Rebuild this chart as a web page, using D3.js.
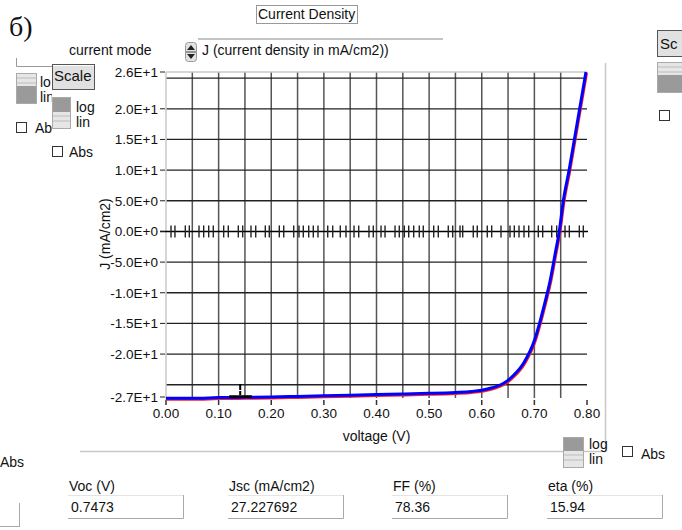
<!DOCTYPE html>
<html>
<head>
<meta charset="utf-8">
<script src="https://cdn.jsdelivr.net/npm/d3@7"></script>
<style>
  body { margin: 0; background: #fff; }
  svg text { font-family: "Liberation Sans", Arial, sans-serif; font-size: 14px; fill: #111; }
  svg text.tick { font-size: 13.5px; }
</style>
</head>
<body>
<div id="chart"></div>
<script>
// measured J-V curve (V, mA/cm2)
var voltage = [0, 0.05, 0.10, 0.15, 0.20, 0.25, 0.30, 0.35, 0.40, 0.45, 0.50, 0.55, 0.58, 0.60, 0.62, 0.64, 0.66, 0.68, 0.70, 0.71, 0.72, 0.73, 0.74, 0.7473, 0.755, 0.766, 0.776, 0.786, 0.798];
var current = [-27.2, -27.2, -27.1, -27.05, -27.0, -26.9, -26.8, -26.7, -26.6, -26.5, -26.4, -26.25, -26.1, -25.9, -25.5, -24.85, -23.5, -21.4, -17.8, -14.9, -11.6, -8.0, -3.4, 0, 5, 10, 15, 20, 26];

// axis ticks
var yTicks = [26, 20, 15, 10, 5, 0, -5, -10, -15, -20, -27];
var yTickLabels = ["2.6E+1", "2.0E+1", "1.5E+1", "1.0E+1", "5.0E+0", "0.0E+0", "-5.0E+0", "-1.0E+1", "-1.5E+1", "-2.0E+1", "-2.7E+1"];
var yGrid = [-25, -20, -15, -10, -5, 5, 10, 15, 20, 25];
var xTicks = [0, 0.1, 0.2, 0.3, 0.4, 0.5, 0.6, 0.7, 0.8];
var xGrid = [0.05, 0.10, 0.15, 0.20, 0.25, 0.30, 0.35, 0.40, 0.45, 0.50, 0.55, 0.60, 0.65, 0.70, 0.75];

// markers sitting on the zero line
var zeroMarks = [0.0095, 0.017, 0.0367, 0.0443, 0.0627, 0.0716, 0.0811, 0.0899, 0.1096, 0.1184, 0.1374, 0.1457,
  0.1615, 0.1705, 0.1887, 0.1963, 0.2153, 0.2237, 0.2427, 0.2527, 0.2609, 0.2712, 0.2799, 0.2888, 0.3073, 0.3168,
  0.3312, 0.342, 0.3573, 0.3662, 0.3857, 0.3939, 0.4086, 0.4162, 0.4352, 0.4433, 0.4528, 0.4612, 0.4707, 0.4813,
  0.4889, 0.5087, 0.5174, 0.5364, 0.5448, 0.5587, 0.5638, 0.5839, 0.5915, 0.6105, 0.6189, 0.6366, 0.6537, 0.6619,
  0.6708, 0.6803, 0.6892, 0.7075, 0.7158, 0.7329, 0.7424, 0.7582, 0.7664, 0.7854, 0.793];

// results
var resultNames = ["Voc (V)", "Jsc (mA/cm2)", "FF  (%)", "eta (%)"];
var resultValues = ["0.7473", "27.227692", "78.36", "15.94"];

var svg = d3.select('#chart').append('svg')
  .attr('width', 682)
  .attr('height', 530);

var x = d3.scaleLinear().domain([0, 0.8]).range([166, 587]);
var y = d3.scaleLinear().domain([-27, 26]).range([397, 72]);

svg.append('clipPath').attr('id', 'leftclip')
  .append('rect').attr('x', 0).attr('y', 0).attr('width', 52).attr('height', 200);

// ---- header ----
svg.append('text').attr('x', 9).attr('y', 36)
  .style('font-family', '"Liberation Serif", "Times New Roman", serif')
  .style('font-size', '28px').text('б)');

svg.append('rect').attr('x', 256.5).attr('y', 5.5).attr('width', 101).attr('height', 18)
  .attr('fill', 'none').attr('stroke', '#333').attr('stroke-dasharray', '1,1');
svg.append('text').attr('x', 258).attr('y', 19).text('Current Density');

svg.append('text').attr('x', 69).attr('y', 55).text('current mode');
svg.append('line').attr('x1', 198).attr('x2', 443).attr('y1', 39).attr('y2', 39)
  .attr('stroke', '#c4c4c4').attr('stroke-width', 2);
// spinner
svg.append('rect').attr('x', 185.5).attr('y', 42.5).attr('width', 11).attr('height', 19).attr('rx', 3)
  .attr('fill', '#e4e4e4').attr('stroke', '#999');
svg.append('path').attr('d', 'M187,50 L191,45 L195,50 Z').attr('fill', '#222');
svg.append('path').attr('d', 'M187,54 L191,59 L195,54 Z').attr('fill', '#222');
svg.append('line').attr('x1', 186).attr('x2', 196).attr('y1', 52).attr('y2', 52).attr('stroke', '#444');
svg.append('text').attr('x', 202).attr('y', 55).text('J (current density in mA/cm2))');

// ---- small widgets ----
function slider(x0, y0, w, h, darkTop) {
  var g = svg.append('g');
  g.append('rect').attr('x', x0 + 0.5).attr('y', y0 + 0.5).attr('width', w).attr('height', h)
    .attr('fill', '#e6e6e6').attr('stroke', '#aaa');
  var half = Math.round(h / 2);
  g.append('rect').attr('x', x0 + 1).attr('y', darkTop ? y0 + 1 : y0 + half - 2)
    .attr('width', w - 1).attr('height', darkTop ? half - 2 : h - half + 2)
    .attr('fill', '#9a9a9a');
  var ly = darkTop ? y0 + half + 3 : y0 + 5;
  g.append('line').attr('x1', x0 + 1).attr('x2', x0 + w).attr('y1', ly).attr('y2', ly).attr('stroke', '#bbb');
  g.append('line').attr('x1', x0 + 1).attr('x2', x0 + w).attr('y1', ly + 5).attr('y2', ly + 5).attr('stroke', '#bbb');
}
function checkbox(x0, y0) {
  svg.append('rect').attr('x', x0 + 0.5).attr('y', y0 + 0.5).attr('width', 10).attr('height', 10)
    .attr('fill', '#fff').attr('stroke', '#333');
}
function button(x0, y0, w, h, label) {
  svg.append('rect').attr('x', x0 + 0.5).attr('y', y0 + 0.5).attr('width', w).attr('height', h)
    .attr('fill', '#e1e1e1').attr('stroke', '#555');
  svg.append('line').attr('x1', x0 + 1).attr('x2', x0 + w).attr('y1', y0 + 1.5).attr('y2', y0 + 1.5).attr('stroke', '#fff');
  svg.append('text').attr('x', x0 + 2).attr('y', y0 + h - 8).style('font-size', '15px').text(label);
}

// left controls (partly hidden behind the Scale panel)
svg.append('path').attr('d', 'M16.5,58 L16.5,66.5 L52,66.5').attr('fill', 'none').attr('stroke', '#999');
slider(16, 73, 20, 30, false);
svg.append('text').attr('x', 40).attr('y', 87).text('lo');
svg.append('text').attr('clip-path', 'url(#leftclip)').attr('x', 40).attr('y', 102).text('lin');
checkbox(16, 122);
svg.append('text').attr('clip-path', 'url(#leftclip)').attr('x', 35).attr('y', 133).text('Abs');
button(52, 64, 42, 25, 'Scale');
slider(52, 97, 18, 31, true);
svg.append('text').attr('x', 76).attr('y', 112).text('log');
svg.append('text').attr('x', 76).attr('y', 127).text('lin');
checkbox(52, 146);
svg.append('text').attr('x', 69).attr('y', 157).text('Abs');

// right controls
svg.append('rect').attr('x', 657.5).attr('y', 30.5).attr('width', 30).attr('height', 26)
  .attr('fill', '#e1e1e1').attr('stroke', '#555');
svg.append('text').attr('x', 660).attr('y', 49).style('font-size', '15px').text('Sc');
slider(657, 62, 30, 30, false);
checkbox(659, 110);

// panel border
svg.append('path').attr('d', 'M80,451.5 L605.5,451.5 L605.5,63').attr('fill', 'none')
  .attr('stroke', '#c8c8c8').attr('stroke-width', 1.5);

// ---- plot ----
var plot = svg.append('g');

plot.selectAll('.vgrid').data(xGrid).enter().append('line')
  .attr('x1', function(d) { return x(d); }).attr('x2', function(d) { return x(d); })
  .attr('y1', y(26)).attr('y2', y(-27) + 1)
  .attr('stroke', '#555').attr('stroke-width', 1.5);

plot.selectAll('.hgrid').data(yGrid).enter().append('line')
  .attr('x1', x(0)).attr('x2', x(0.8))
  .attr('y1', function(d) { return y(d); }).attr('y2', function(d) { return y(d); })
  .attr('stroke', '#222').attr('stroke-width', 1.3);

// frame: light top and left edges
plot.append('line').attr('x1', x(0)).attr('x2', x(0.8)).attr('y1', y(26)).attr('y2', y(26))
  .attr('stroke', '#c8c8c8').attr('stroke-width', 1.5);
plot.append('line').attr('x1', x(0)).attr('x2', x(0)).attr('y1', y(26)).attr('y2', y(-27) + 3)
  .attr('stroke', '#c8c8c8').attr('stroke-width', 1.5);

// zero line with markers
plot.append('line').attr('x1', 160).attr('x2', x(0.8) + 1).attr('y1', y(0)).attr('y2', y(0))
  .attr('stroke', '#000').attr('stroke-width', 1.5);
plot.selectAll('.zmark').data(zeroMarks).enter().append('line')
  .attr('x1', function(d) { return x(d); }).attr('x2', function(d) { return x(d); })
  .attr('y1', y(0) - 6).attr('y2', y(0) + 6)
  .attr('stroke', '#222').attr('stroke-width', 1.4);

// y axis
plot.selectAll('.ytick').data(yTicks).enter().append('line')
  .attr('x1', 160).attr('x2', 165)
  .attr('y1', function(d) { return y(d); }).attr('y2', function(d) { return y(d); })
  .attr('stroke', '#222');
plot.selectAll('.ylab').data(yTicks).enter().append('text')
  .attr('class', 'tick')
  .attr('x', 158).attr('y', function(d) { return y(d) + 5; })
  .attr('text-anchor', 'end')
  .text(function(d, i) { return yTickLabels[i]; });

// x axis
plot.selectAll('.xtick').data(xTicks).enter().append('line')
  .attr('x1', function(d) { return x(d); }).attr('x2', function(d) { return x(d); })
  .attr('y1', 400).attr('y2', 405)
  .attr('stroke', '#333').attr('stroke-width', 1.5);
plot.selectAll('.xlab').data(xTicks).enter().append('text')
  .attr('class', 'tick')
  .attr('x', function(d) { return x(d); }).attr('y', 418)
  .attr('text-anchor', 'middle')
  .text(function(d) { return d3.format('.2f')(d); });

svg.append('text').attr('x', x(0.4)).attr('y', 441).attr('text-anchor', 'middle').text('voltage (V)');
svg.append('text').attr('transform', 'translate(110,234) rotate(-90)')
  .attr('text-anchor', 'middle').text('J (mA/cm2)');

// curve
var pts = voltage.map(function(v, i) { return [v, current[i]]; });
var line = d3.line()
  .x(function(d) { return x(d[0]); })
  .y(function(d) { return y(d[1]); })
  .curve(d3.curveMonotoneX);
plot.append('path').datum(pts).attr('d', line).attr('transform', 'translate(0.6,1)')
  .attr('fill', 'none').attr('stroke', '#ff2020').attr('stroke-width', 3);
plot.append('path').datum(pts).attr('d', line)
  .attr('fill', 'none').attr('stroke', '#0000ff').attr('stroke-width', 3);

// cursor
plot.append('line').attr('x1', x(0.12)).attr('x2', x(0.163)).attr('y1', y(-27) - 0.5).attr('y2', y(-27) - 0.5)
  .attr('stroke', '#000').attr('stroke-width', 2.5);
plot.append('line').attr('x1', x(0.141)).attr('x2', x(0.141)).attr('y1', 384).attr('y2', 395)
  .attr('stroke', '#000').attr('stroke-width', 2).attr('stroke-dasharray', '6,1,4');

// bottom right controls
slider(563, 437, 20, 30, true);
svg.append('text').attr('x', 589).attr('y', 449).text('log');
svg.append('text').attr('x', 589).attr('y', 464).text('lin');
checkbox(622, 446);
svg.append('text').attr('x', 641).attr('y', 459).text('Abs');
svg.append('text').attr('x', 0).attr('y', 467).text('Abs');

// results boxes
var boxX = [68, 228, 392, 547];
svg.append('line').attr('x1', 19.5).attr('x2', 19.5).attr('y1', 503).attr('y2', 527).attr('stroke', '#aaa');
svg.append('line').attr('x1', 0).attr('x2', 20).attr('y1', 526.5).attr('y2', 526.5).attr('stroke', '#aaa');
resultNames.forEach(function(name, i) {
  var bx = boxX[i];
  svg.append('text').attr('x', bx + 1).attr('y', 491).text(name);
  svg.append('line').attr('x1', bx).attr('x2', bx + 115).attr('y1', 495.5).attr('y2', 495.5).attr('stroke', '#e4e4e4');
  svg.append('path').attr('d', 'M' + bx + ',518.5 L' + (bx + 115.5) + ',518.5 L' + (bx + 115.5) + ',495')
    .attr('fill', 'none').attr('stroke', '#aaa');
  svg.append('text').attr('x', bx + 3).attr('y', 512).text(resultValues[i]);
});
</script>
</body>
</html>
